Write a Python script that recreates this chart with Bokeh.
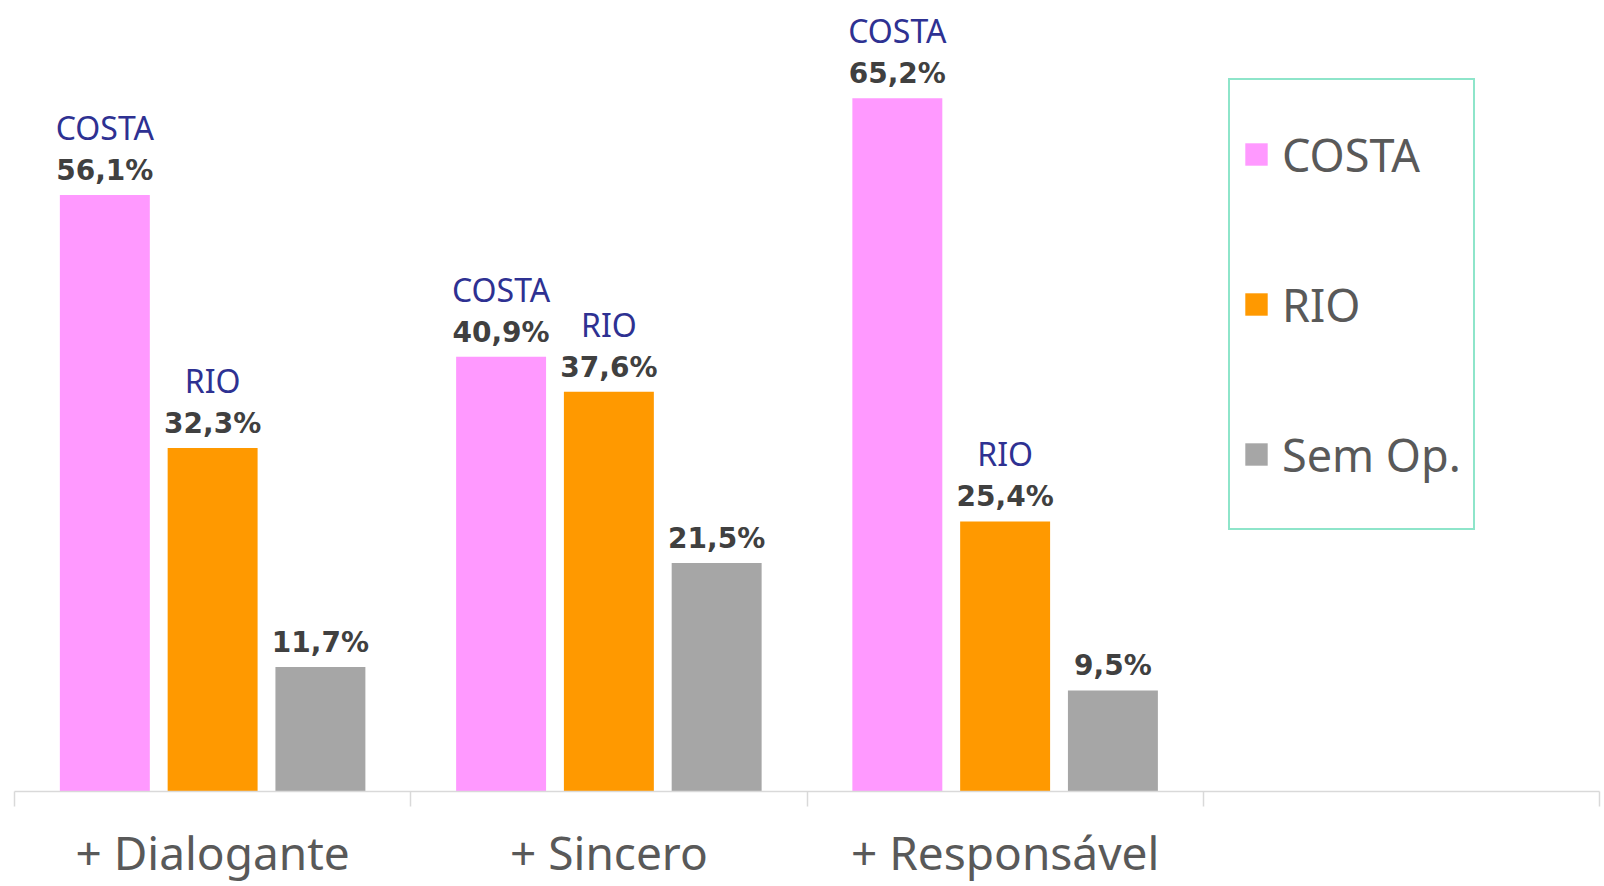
from bokeh.plotting import figure
from bokeh.models import ColumnDataSource, Legend, LegendItem, FixedTicker, Range1d, LabelSet
from bokeh.core.properties import value
from bokeh.transform import dodge
from bokeh.embed import file_html
from bokeh.resources import INLINE

# ---- data ----
categories = ["+ Dialogante", "+ Sincero", "+ Responsável"]
n_slots = 4  # the category axis has one empty slot at the right
series_names = ["COSTA", "RIO", "Sem Op."]
costa = [56.1, 40.9, 65.2]
rio = [32.3, 37.6, 25.4]
sem_op = [11.7, 21.5, 9.5]
show_name = [True, True, False]

colors = ["#FF99FF", "#FF9900", "#A6A6A6"]
offsets = [-0.272, 0.0, 0.272]
bar_w = 0.227

SANS = "Noto Sans"

W, H = 1604, 886
p = figure(width=W, height=H, output_backend="svg", toolbar_location=None,
           x_range=Range1d(0, n_slots), y_range=Range1d(0, 74.4),
           min_border_left=14, min_border_right=5, min_border_top=0, min_border_bottom=95)
p.outline_line_color = None
p.xgrid.visible = False
p.ygrid.visible = False
p.yaxis.visible = False
p.background_fill_color = "white"
p.border_fill_color = "white"

xs = [i + 0.5 for i in range(len(categories))]
all_vals = [costa, rio, sem_op]
renderers = []
for k, (name, vals) in enumerate(zip(series_names, all_vals)):
    src = ColumnDataSource(dict(
        x=xs, v=vals,
        lbl=[f"{v:.1f}".replace(".", ",") + "%" for v in vals],
        nm=[name] * len(vals),
    ))
    r = p.vbar(x=dodge("x", offsets[k], range=p.x_range), top="v", width=bar_w,
               source=src, fill_color=colors[k], line_color=None)
    renderers.append(r)
    p.add_layout(LabelSet(x=dodge("x", offsets[k], range=p.x_range), y="v", text="lbl",
                          source=src, y_offset=15, text_align="center",
                          text_baseline="alphabetic", text_font=value("DejaVu Sans"),
                          text_font_style="bold", text_font_size="28px",
                          text_color="#404040"))
    if show_name[k]:
        p.add_layout(LabelSet(x=dodge("x", offsets[k], range=p.x_range), y="v", text="nm",
                              source=src, y_offset=55, text_align="center",
                              text_baseline="alphabetic", text_font=value(SANS),
                              text_font_size="32px", text_color="#2E3192"))

ax = p.xaxis[0]
ax.ticker = FixedTicker(ticks=[i + 0.5 for i in range(n_slots)],
                        minor_ticks=list(range(n_slots + 1)))
overrides = {i + 0.5: (categories[i] if i < len(categories) else "") for i in range(n_slots)}
ax.major_label_overrides = overrides
ax.axis_line_color = "#D9D9D9"
ax.axis_line_width = 1.5
ax.major_tick_out = 0
ax.major_tick_in = 0
ax.minor_tick_out = 15
ax.minor_tick_in = 0
ax.minor_tick_line_color = "#D9D9D9"
ax.minor_tick_line_width = 1.5
ax.major_label_standoff = 14
ax.major_label_text_font = SANS
ax.major_label_text_font_size = "46px"
ax.major_label_text_color = "#595959"

legend = Legend(items=[LegendItem(label=n, renderers=[r]) for n, r in zip(series_names, renderers)],
                location=(1214, 261), orientation="vertical",
                border_line_color="#1ECC96", border_line_width=2,
                background_fill_color="white", background_fill_alpha=0.0,
                padding=12, spacing=26, label_height=124,
                glyph_width=28, glyph_height=28, label_standoff=12,
                label_text_font=SANS, label_text_font_size="45px",
                label_text_color="#595959", margin=0)
p.add_layout(legend)

open("out.html", "w").write(file_html(p, INLINE))
